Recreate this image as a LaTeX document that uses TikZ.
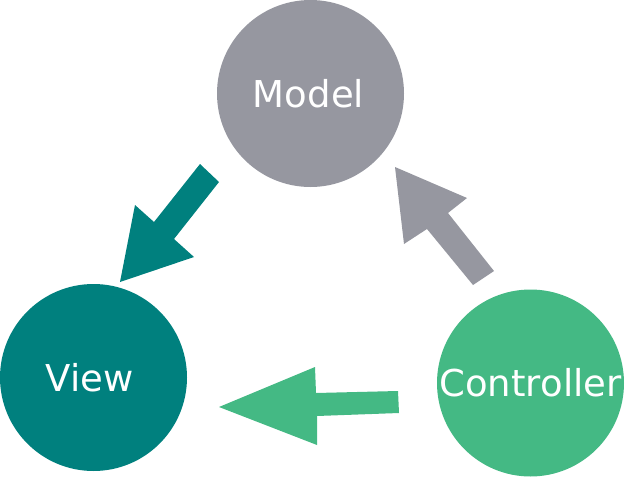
\documentclass[tikz,border=0pt]{standalone}
\usepackage{fontspec}
\setmainfont{DejaVu Sans}
\definecolor{modelgray}{RGB}{150,151,160}
\definecolor{viewteal}{RGB}{0,128,126}
\definecolor{ctrlgreen}{RGB}{68,185,132}
\begin{document}
\begin{tikzpicture}[x=1pt,y=-1pt,
  part/.style={circle,minimum size=187pt,inner sep=0pt,text=white,
    font=\fontsize{37}{37}\selectfont},
  blockarrow/.style={draw=none}]
\useasboundingbox (0,0) rectangle (625,477);
% the three parts of the pattern
\node[part,fill=modelgray] (model) at (310.5,93.5) {\hspace*{-4pt}Model};
\node[part,fill=viewteal] (view) at (93.5,377.5) {\hspace*{-8pt}View};
\node[part,fill=ctrlgreen] (controller) at (530.5,383) {Controller};
% Model updates View
\fill[viewteal,blockarrow] (200,164) -- (219,182) -- (174,239) -- (194,257)
  -- (120,282) -- (135,205) -- (154,222) -- cycle;
% Controller manipulates Model
\fill[modelgray,blockarrow] (395,167) -- (467,198) -- (448,213) -- (494,271)
  -- (473,285) -- (427,229) -- (404,244) -- cycle;
% View input goes to Controller
\fill[ctrlgreen,blockarrow] (219,407) -- (315,367) -- (316,393) -- (398,391)
  -- (399,413) -- (317,416) -- (317,445) -- cycle;
\end{tikzpicture}
\end{document}
